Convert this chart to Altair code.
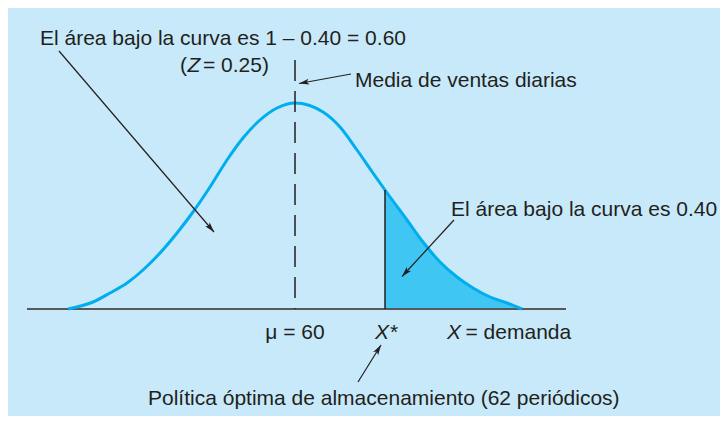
import math
import altair as alt
import pandas as pd

# ---- data (x position, height above the baseline) ----
curve_x = [68, 93, 110, 127, 143, 160, 177, 193, 210, 227, 243, 260, 277, 295,
           323, 340, 357, 373, 385, 407, 423, 440, 457, 473, 490, 507, 522]
curve_h = [0, 7, 16, 26, 39, 56, 76, 97, 122, 149, 171, 189, 201, 206,
           197, 182, 159, 136, 119, 89, 67, 47, 32, 21, 12, 6, 0]
mean_x = 295          # mu = 60
mean_top = 249
xstar_x = 385         # X*
xstar_h = 119
axis_from = 27
axis_to = 566

# arrows: start x, start h, tip x, tip h
arrow_x1 = [59, 351, 454, 358]
arrow_h1 = [258, 235, 89, -73]
arrow_x2 = [214, 299, 402, 381]
arrow_h2 = [77, 225.5, 32.5, -36]

# texts: x, baseline h, text, align, italic
labels = [
    (40, 264, "El área bajo la curva es 1 – 0.40 = 0.60", "left", False),
    (180, 237.5, "(", "left", False),
    (187.5, 237.5, "Z", "left", True),
    (203, 237.5, "= 0.25)", "left", False),
    (355, 222, "Media de ventas diarias", "left", False),
    (451, 93, "El área bajo la curva es 0.40", "left", False),
    (295, -29.5, "μ = 60", "center", False),
    (375, -29.5, "X", "left", True),
    (390, -29.5, "*", "left", False),
    (447, -29.5, "X", "left", True),
    (465.5, -29.5, "= demanda", "left", False),
    (148, -96, "Política óptima de almacenamiento (62 periódicos)", "left", False),
]

# ---- layout ----
W, H = 712, 408
BASE = 309  # baseline row in the picture
XS = alt.Scale(domain=[8, 8 + W], nice=False, zero=False)
YS = alt.Scale(domain=[BASE - (8 + H), BASE - 8], nice=False, zero=False)

INK = "#231f20"
CURVE = "#00aeef"
FILL = "#3fc6f3"
BG = "#c7e9f9"
FONT = "Liberation Sans"
FS = 21

curve = pd.DataFrame({"x": curve_x, "h": curve_h})
tail = curve[curve.x >= xstar_x]

def X(f="x"):
    return alt.X(f"{f}:Q", scale=XS, axis=None)

def Y(f="h"):
    return alt.Y(f"{f}:Q", scale=YS, axis=None)

area = alt.Chart(tail).mark_area(color=FILL, opacity=1, interpolate="monotone").encode(
    x=X(), y=Y(), y2=alt.Y2(datum=0))

line = alt.Chart(curve).mark_line(color=CURVE, strokeWidth=3, interpolate="monotone").encode(
    x=X(), y=Y(), order="x:Q")

base_df = pd.DataFrame({"x": [axis_from], "x2": [axis_to], "h": [0]})
baseline = alt.Chart(base_df).mark_rule(color="#58595b", strokeWidth=2).encode(
    x=X(), x2="x2:Q", y=Y())

mean_df = pd.DataFrame({"x": [mean_x], "h": [mean_top], "h2": [0]})
mean_rule = alt.Chart(mean_df).mark_rule(
    color=INK, strokeWidth=1.5, strokeDash=[21, 10]).encode(
    x=X(), y=Y(), y2="h2:Q")

xs_df = pd.DataFrame({"x": [xstar_x], "h": [xstar_h], "h2": [0]})
xs_rule = alt.Chart(xs_df).mark_rule(color=INK, strokeWidth=1.5).encode(
    x=X(), y=Y(), y2="h2:Q")

arr = pd.DataFrame({"x": arrow_x1, "h": arrow_h1, "x2": arrow_x2, "h2": arrow_h2})
arr["ang"] = [
    (math.degrees(math.atan2(a2 - a1, b2 - b1)) + 360) % 360
    for a1, b1, a2, b2 in zip(arrow_x1, arrow_h1, arrow_x2, arrow_h2)
]
shafts = alt.Chart(arr).mark_rule(color=INK, strokeWidth=1.2).encode(
    x=X(), y=Y(), x2="x2:Q", y2="h2:Q")
heads = alt.Chart(arr).mark_point(
    shape="M0,0L0.55,1.9L0,1.45L-0.55,1.9Z", filled=True, color=INK,
    opacity=1, size=115, strokeWidth=0).encode(
    x=X("x2"), y=Y("h2"), angle=alt.Angle("ang:Q", scale=None))

lab = pd.DataFrame(labels, columns=["x", "h", "t", "align", "it"])
text_layers = []
for (al, it), g in lab.groupby(["align", "it"]):
    text_layers.append(
        alt.Chart(g).mark_text(
            align=al, baseline="alphabetic", font=FONT, fontSize=FS,
            fontStyle="italic" if it else "normal", color=INK).encode(
            x=X(), y=Y(), text="t:N"))

chart = alt.layer(
    area, baseline, line, mean_rule, xs_rule, shafts, heads, *text_layers
).properties(
    width=W, height=H, background=BG, padding=0,
    autosize=alt.AutoSizeParams(type="none"),
).configure_view(strokeWidth=0)

chart.save("out.html", embed_options={"renderer": "svg", "actions": False})
